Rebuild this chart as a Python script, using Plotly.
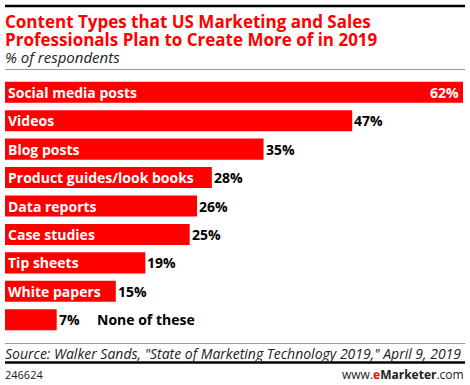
import plotly.graph_objects as go

categories = ["Social media posts", "Videos", "Blog posts", "Product guides/look books",
              "Data reports", "Case studies", "Tip sheets", "White papers", "None of these"]
values = [62, 47, 35, 28, 26, 25, 19, 15, 7]
value_labels = ["62%", "47%", "35%", "28%", "26%", "25%", "19%", "15%", "7%"]

W, H = 470, 385
ML, MR, MT, MB = 5, 7, 78, 51
PW, PH = W - ML - MR, H - MT - MB

def px(x):
    return (x - ML) / PW

def py(y):
    return (H - MB - y) / PH

RED = "#ff0000"
FONT = "Open Sans"
LFONT = "Open Sans"

fig = go.Figure(go.Bar(
    x=values, y=categories, orientation="h",
    marker=dict(color=RED, line=dict(width=0)),
    hoverinfo="skip",
))

ann = []
for i, (c, v, lab) in enumerate(zip(categories, values, value_labels)):
    last = (c == "None of these")
    if not last:
        ann.append(dict(x=0, y=c, xref="x", yref="y", text="<b>%s</b>" % c,
                        xanchor="left", xshift=1, showarrow=False,
                        font=dict(family=LFONT, size=14, color="white")))
    if i == 0:
        ann.append(dict(x=v, y=c, xref="x", yref="y", text="<b>%s</b>" % lab,
                        xanchor="right", xshift=-2, showarrow=False,
                        font=dict(family=LFONT, size=14, color="white")))
    else:
        ann.append(dict(x=v, y=c, xref="x", yref="y", text="<b>%s</b>" % lab,
                        xanchor="left", xshift=0, showarrow=False,
                        font=dict(family=LFONT, size=14, color="black")))
    if last:
        ann.append(dict(x=v, y=c, xref="x", yref="y", text="<b>%s</b>" % c,
                        xanchor="left", xshift=38, showarrow=False,
                        font=dict(family=LFONT, size=14, color="black")))

ann += [
    dict(x=px(5), y=py(21), xref="paper", yref="paper", xanchor="left", yanchor="middle",
         text="<b>Content Types that US Marketing and Sales</b>", showarrow=False,
         font=dict(family=FONT, size=17, color=RED), xshift=-2),
    dict(x=px(5), y=py(39), xref="paper", yref="paper", xanchor="left", yanchor="middle",
         text="<b>Professionals Plan to Create More of in 2019</b>", showarrow=False,
         font=dict(family=FONT, size=17, color=RED), xshift=-2),
    dict(x=px(5), y=py(57), xref="paper", yref="paper", xanchor="left", yanchor="middle",
         text="<i>% of respondents</i>", showarrow=False,
         font=dict(family=FONT, size=15, color="#222"), xshift=-2),
    dict(x=px(5), y=py(353), xref="paper", yref="paper", xanchor="left", yanchor="middle",
         text="<i>Source: Walker Sands, \"State of Marketing Technology 2019,\" April 9, 2019</i>",
         showarrow=False, font=dict(family=FONT, size=14, color="#222"), xshift=-2),
    dict(x=px(5), y=py(374), xref="paper", yref="paper", xanchor="left", yanchor="middle",
         text="246624", showarrow=False, font=dict(family=FONT, size=11, color="#222"), xshift=-2),
    dict(x=px(464), y=py(374), xref="paper", yref="paper", xanchor="right", yanchor="middle",
         text="www.<b><span style='color:#ff0000'>e</span>Marketer</b>.com", showarrow=False,
         font=dict(family=FONT, size=12, color="#222"), xshift=2),
]

shapes = [
    dict(type="line", xref="paper", yref="paper", x0=px(5), x1=px(465), y0=py(6), y1=py(6),
         line=dict(color="black", width=2.5)),
    dict(type="line", xref="paper", yref="paper", x0=px(5), x1=px(465), y0=py(69.5), y1=py(69.5),
         line=dict(color="#999999", width=1)),
    dict(type="line", xref="paper", yref="paper", x0=px(5), x1=px(465), y0=py(343.5), y1=py(343.5),
         line=dict(color="#999999", width=1)),
    dict(type="line", xref="paper", yref="paper", x0=px(5), x1=px(465), y0=py(362.5), y1=py(362.5),
         line=dict(color="black", width=2.5)),
]

fig.update_layout(
    width=W, height=H,
    margin=dict(l=ML, r=MR, t=MT, b=MB, pad=0),
    paper_bgcolor="white", plot_bgcolor="white",
    bargap=0.26, showlegend=False,
    xaxis=dict(range=[0, 62], visible=False, fixedrange=True),
    yaxis=dict(autorange="reversed", visible=False, fixedrange=True),
    annotations=ann, shapes=shapes,
)

fig.write_html("out.html", config={"displayModeBar": False, "staticPlot": True},
               post_script="document.body.style.margin='0';document.body.style.overflow='hidden';")
